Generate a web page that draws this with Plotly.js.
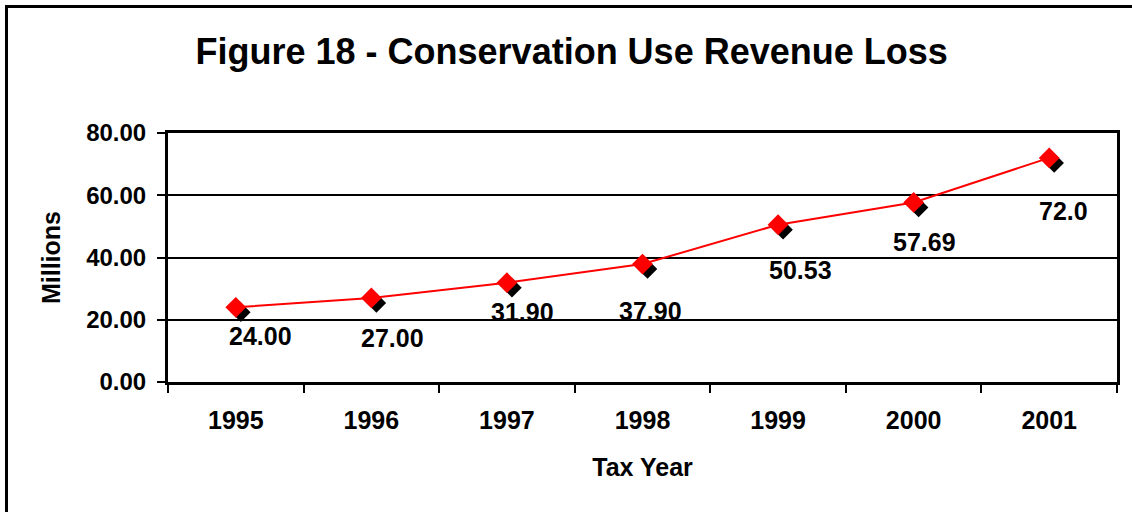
<!DOCTYPE html>
<html>
<head>
<meta charset="utf-8">
<script src="https://cdn.plot.ly/plotly-3.0.1.min.js"></script>
<style>
  html, body { margin: 0; padding: 0; background: #fff; }
  #frame { position: absolute; left: 5px; top: 5px; width: 1200px; height: 600px; border: 3px solid #000; box-sizing: border-box; }
  #chart { position: absolute; left: 0; top: 0; width: 1132px; height: 512px; }
</style>
</head>
<body>
<div id="frame"></div>
<div id="chart"></div>
<script>
// ---- data ----
const years = ["1995", "1996", "1997", "1998", "1999", "2000", "2001"];
const revenueLoss = [24.00, 27.00, 31.90, 37.90, 50.53, 57.69, 72.0];
const valueLabels = ["24.00", "27.00", "31.90", "37.90", "50.53", "57.69", "72.0"];
const yTickValues = [0, 20, 40, 60, 80];
const yTickLabels = ["0.00", "20.00", "40.00", "60.00", "80.00"];

// ---- styling / layout config ----
const FONT = "Liberation Sans, Arial, sans-serif";
const margin = { l: 168, r: 15, t: 133, b: 130 };
const plotW = 1132 - margin.l - margin.r;
const plotH = 512 - margin.t - margin.b;
const shadowPx = 5;
const xRange = [-0.5, years.length - 0.5];
const yRange = [0, 80];
const dx = shadowPx * (xRange[1] - xRange[0]) / plotW;
const dy = shadowPx * (yRange[1] - yRange[0]) / plotH;
// per-label offsets (pixels) of the data labels from their points
const labelShiftX = [25, 21, 16, 8, 22, 11, 14];
const labelShiftY = [-29, -40, -29, -47, -45, -40, -53];

// shadow markers sit on hidden axes whose range is shifted by a few pixels
const shadow = {
  type: "scatter", mode: "markers",
  x: years, y: revenueLoss, xaxis: "x", yaxis: "y",
  marker: { symbol: "diamond", size: 15, color: "#000000" },
  hoverinfo: "skip", showlegend: false
};
// visible series on the visible (overlaying) axes, drawn above the shadow
const main = {
  type: "scatter", mode: "lines+markers",
  x: years, y: revenueLoss, xaxis: "x2", yaxis: "y2",
  line: { color: "#ff0000", width: 2 },
  marker: { symbol: "diamond", size: 16, color: "#ff0000" },
  showlegend: false
};

const annotations = years.map((yr, i) => ({
  x: i, y: revenueLoss[i], xref: "x2", yref: "y2",
  text: "<b>" + valueLabels[i] + "</b>", showarrow: false,
  xshift: labelShiftX[i], yshift: labelShiftY[i],
  font: { family: FONT, size: 25, color: "#000" }
}));

const layout = {
  width: 1132, height: 512,
  margin: margin,
  paper_bgcolor: "rgba(0,0,0,0)",
  plot_bgcolor: "rgba(0,0,0,0)",
  font: { family: FONT, color: "#000" },
  title: {
    text: "<b>Figure 18 - Conservation Use Revenue Loss</b>",
    font: { family: FONT, size: 36, color: "#000" },
    x: 0.505, xref: "container", xanchor: "center",
    y: 0.9, yref: "container", yanchor: "middle"
  },
  xaxis: {
    type: "category", range: [xRange[0] - dx, xRange[1] - dx],
    visible: false, fixedrange: true, showgrid: false, zeroline: false
  },
  yaxis: {
    range: [yRange[0] + dy, yRange[1] + dy],
    visible: false, fixedrange: true, showgrid: false, zeroline: false
  },
  xaxis2: {
    type: "category", range: xRange, fixedrange: true,
    overlaying: "x", anchor: "y2", side: "bottom",
    showline: true, linecolor: "#000", linewidth: 3, mirror: true,
    ticks: "outside", tickson: "boundaries", ticklen: 8, tickwidth: 2, tickcolor: "#000",
    showgrid: false, zeroline: false,
    tickfont: { family: FONT, size: 25, color: "#000" },
    tickprefix: "<b>", ticksuffix: "</b>",
    ticklabelstandoff: 14,
    title: { text: "<b>Tax Year</b>", font: { family: FONT, size: 25, color: "#000" }, standoff: 26 }
  },
  yaxis2: {
    range: yRange, fixedrange: true,
    overlaying: "y", anchor: "x2", side: "left",
    tickvals: yTickValues, ticktext: yTickLabels.map(t => "<b>" + t + "</b>"),
    showline: true, linecolor: "#000", linewidth: 3, mirror: true,
    ticks: "outside", ticklen: 8, tickwidth: 2, tickcolor: "#000",
    showgrid: true, gridcolor: "#000", gridwidth: 2, zeroline: false,
    tickfont: { family: FONT, size: 24, color: "#000" },
    ticklabelstandoff: 6,
    title: { text: "<b>Millions</b>", font: { family: FONT, size: 25, color: "#000" }, standoff: 19 }
  },
  annotations: annotations
};

Plotly.newPlot("chart", [shadow, main], layout, { displayModeBar: false, staticPlot: true });
</script>
</body>
</html>
